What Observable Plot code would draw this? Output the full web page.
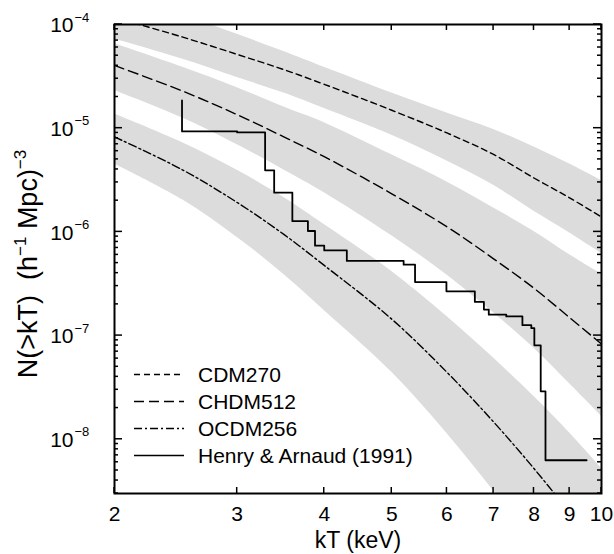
<!DOCTYPE html>
<html><head><meta charset="utf-8">
<script src="https://cdn.jsdelivr.net/npm/d3@7"></script>
<script src="https://cdn.jsdelivr.net/npm/@observablehq/plot@0.6"></script>
<style>html,body{margin:0;padding:0;background:#fff;overflow:hidden;} svg{display:block;}</style>
</head><body><div id="chart"></div>
<script>
// Temperature grid (keV)
const kT = [2, 2.5, 3, 3.5, 4, 5, 6, 7, 8, 9, 10];
// Model curves N(>kT)
const cdm270  = [1.17e-4, 7.59e-5, 5.15e-5, 3.67e-5, 2.65e-5, 1.49e-5, 9.0e-6, 5.58e-6, 3.31e-6, 2.13e-6, 1.39e-6];
const chdm512 = [4.03e-5, 2.29e-5, 1.35e-5, 8.24e-6, 5.31e-6, 2.33e-6, 1.12e-6, 5.50e-7, 2.86e-7, 1.49e-7, 8.28e-8];
const ocdm256 = [8.24e-6, 3.99e-6, 1.92e-6, 9.46e-7, 4.75e-7, 1.44e-7, 4.43e-8, 1.47e-8, 5.22e-9, 1.95e-9, 7.36e-10];
// Grey uncertainty bands
const cdmLo  = [7.25e-5, 4.65e-5, 3.09e-5, 2.18e-5, 1.55e-5, 8.57e-6, 4.83e-6, 2.81e-6, 1.58e-6, 9.78e-7, 6.21e-7];
const cdmHi  = [1.91e-4, 1.24e-4, 8.04e-5, 5.48e-5, 3.86e-5, 2.18e-5, 1.40e-5, 9.73e-6, 6.59e-6, 4.52e-6, 3.13e-6];
const chdmLo = [2.31e-5, 1.26e-5, 6.93e-6, 3.96e-6, 2.39e-6, 9.17e-7, 3.85e-7, 1.66e-7, 7.55e-8, 3.43e-8, 1.67e-8];
const chdmHi = [6.52e-5, 3.89e-5, 2.46e-5, 1.60e-5, 1.13e-5, 5.53e-6, 3.03e-6, 1.70e-6, 1.01e-6, 6.01e-7, 3.91e-7];
const ocdmLo = [4.52e-6, 2.05e-6, 8.85e-7, 3.89e-7, 1.75e-7, 4.43e-8, 1.14e-8, 3.17e-9, 9.44e-10, 2.96e-10, 9.33e-11];
const ocdmHi = [1.37e-5, 7.27e-6, 3.92e-6, 2.15e-6, 1.18e-6, 4.16e-7, 1.53e-7, 6.07e-8, 2.58e-8, 1.15e-8, 5.25e-9];
// Henry & Arnaud (1991) cumulative step function
const haT = [2.5, 2.5, 3.0, 3.29, 3.39, 3.60, 3.79, 3.88, 4.0, 4.31, 5.20, 5.40, 5.99, 6.58, 6.78, 6.89, 7.30, 7.70, 7.93, 8.01, 8.18, 8.31, 9.52];
const haN = [1.85e-5, 9.3e-6, 9.1e-6, 3.92e-6, 2.39e-6, 1.27e-6, 1.02e-6, 7.36e-7, 6.63e-7, 5.25e-7, 4.83e-7, 3.28e-7, 2.67e-7, 2.11e-7, 1.78e-7, 1.59e-7, 1.53e-7, 1.26e-7, 1.18e-7, 8.05e-8, 2.90e-8, 6.28e-9, 6.28e-9];
// Ticks
const xTicks = [2, 3, 4, 5, 6, 7, 8, 9, 10];
const xTickLabels = ["2", "3", "4", "5", "6", "7", "8", "9", "10"];
const yMajor = [1e-8, 1e-7, 1e-6, 1e-5, 1e-4];
const yExp = ["\u22128", "\u22127", "\u22126", "\u22125", "\u22124"];
const yMinor = [];
for (let e = -9; e <= -5; e++) for (let m = 2; m <= 9; m++) { const v = m * Math.pow(10, e); if (v >= 3e-9 && v < 1e-4) yMinor.push(v); }
// Legend
const legendLabels = ["CDM270", "CHDM512", "OCDM256", "Henry & Arnaud (1991)"];
const legendDash = ["6,4", "10,5", "8,3,2,3", null];

const rows = kT.map((t, i) => ({t, cdm: cdm270[i], chdm: chdm512[i], ocdm: ocdm256[i],
  cdmLo: cdmLo[i], cdmHi: cdmHi[i], chdmLo: chdmLo[i], chdmHi: chdmHi[i], ocdmLo: ocdmLo[i], ocdmHi: ocdmHi[i]}));
const ha = haT.map((t, i) => ({t, n: haN[i]}));

const band = "#dcdcdc";
const font = "'Liberation Sans', Arial, Helvetica, sans-serif";

const chart = Plot.plot({
  width: 614, height: 554,
  marginLeft: 114, marginRight: 13, marginTop: 24, marginBottom: 61,
  style: {fontFamily: font, fontSize: "21px", color: "#000", background: "#fff"},
  x: {type: "log", domain: [2, 10], axis: null},
  y: {type: "log", domain: [3e-9, 1e-4], axis: null},
  marks: [
    Plot.areaY(rows, {x: "t", y1: "cdmLo", y2: "cdmHi", fill: band, curve: "catmull-rom", clip: true}),
    Plot.areaY(rows, {x: "t", y1: "chdmLo", y2: "chdmHi", fill: band, curve: "catmull-rom", clip: true}),
    Plot.areaY(rows, {x: "t", y1: "ocdmLo", y2: "ocdmHi", fill: band, curve: "catmull-rom", clip: true}),
    Plot.line(rows, {x: "t", y: "cdm", stroke: "#000", strokeWidth: 1.4, strokeDasharray: legendDash[0], curve: "catmull-rom", clip: true}),
    Plot.line(rows, {x: "t", y: "chdm", stroke: "#000", strokeWidth: 1.4, strokeDasharray: legendDash[1], curve: "catmull-rom", clip: true}),
    Plot.line(rows, {x: "t", y: "ocdm", stroke: "#000", strokeWidth: 1.4, strokeDasharray: legendDash[2], curve: "catmull-rom", clip: true}),
    Plot.line(ha, {x: "t", y: "n", curve: "step-after", stroke: "#000", strokeWidth: 1.8, clip: true}),
    Plot.frame({stroke: "#000", strokeWidth: 2}),
    Plot.text(xTicks, {x: d => d, text: (d, i) => xTickLabels[i], frameAnchor: "bottom", lineAnchor: "top", dy: 13, fontSize: 21}),
    Plot.text(yMajor, {y: d => d, text: () => "10", frameAnchor: "left", textAnchor: "end", dx: -41, dy: 1, fontSize: 21}),
    Plot.text(yMajor, {y: d => d, text: (d, i) => yExp[i], frameAnchor: "left", textAnchor: "start", dx: -40, dy: -7, fontSize: 13}),
    Plot.text(["kT (keV)"], {frameAnchor: "bottom", lineAnchor: "top", dy: 38, fontSize: 23})
  ]
});

const svg = d3.select(chart);
// Plot's own scales
const xs = chart.scale("x"), ys = chart.scale("y");
const X = xs.apply ? (v => xs.apply(v)) : d3.scaleLog().domain(xs.domain).range(xs.range);
const Y = ys.apply ? (v => ys.apply(v)) : d3.scaleLog().domain(ys.domain).range(ys.range);
const x0 = Math.min(...xs.range), x1 = Math.max(...xs.range);
const y0 = Math.min(...ys.range), y1 = Math.max(...ys.range);

// inward, mirrored ticks
const tk = svg.append("g").attr("stroke", "#000").attr("stroke-width", 1.5).attr("fill", "none");
xTicks.forEach(v => {
  const px = X(v);
  tk.append("line").attr("x1", px).attr("x2", px).attr("y1", y1).attr("y2", y1 - 6);
  tk.append("line").attr("x1", px).attr("x2", px).attr("y1", y0).attr("y2", y0 + 6);
});
yMajor.forEach(v => {
  const py = Y(v);
  tk.append("line").attr("x1", x0).attr("x2", x0 + 8).attr("y1", py).attr("y2", py);
  tk.append("line").attr("x1", x1).attr("x2", x1 - 8).attr("y1", py).attr("y2", py);
});
yMinor.forEach(v => {
  const py = Y(v);
  tk.append("line").attr("x1", x0).attr("x2", x0 + 4).attr("y1", py).attr("y2", py);
  tk.append("line").attr("x1", x1).attr("x2", x1 - 4).attr("y1", py).attr("y2", py);
});

// y-axis label with superscripts
const yl = svg.append("text")
  .attr("transform", "translate(37,264) rotate(-90)")
  .attr("text-anchor", "middle")
  .attr("font-family", font)
  .attr("font-size", 27)
  .attr("fill", "#000");
yl.append("tspan").text("N(>kT)\u00a0\u00a0(h");
yl.append("tspan").attr("font-size", 17).attr("dy", -11).text("\u22121");
yl.append("tspan").attr("dy", 11).text("\u00a0Mpc)");
yl.append("tspan").attr("font-size", 17).attr("dy", -11).text("\u22123");

// legend
const lg = svg.append("g").attr("font-family", font).attr("font-size", 21).attr("text-anchor", "start");
legendLabels.forEach((lab, i) => {
  const y = 374.5 + i * 27;
  const ln = lg.append("line").attr("x1", 134).attr("x2", 184).attr("y1", y).attr("y2", y)
    .attr("stroke", "#000").attr("stroke-width", 1.4);
  if (legendDash[i]) ln.attr("stroke-dasharray", legendDash[i]);
  lg.append("text").attr("x", 198).attr("y", y).attr("dy", "0.36em").attr("text-anchor", "start").attr("fill", "#000").text(lab);
});

document.getElementById("chart").appendChild(chart);
</script>
</body></html>
